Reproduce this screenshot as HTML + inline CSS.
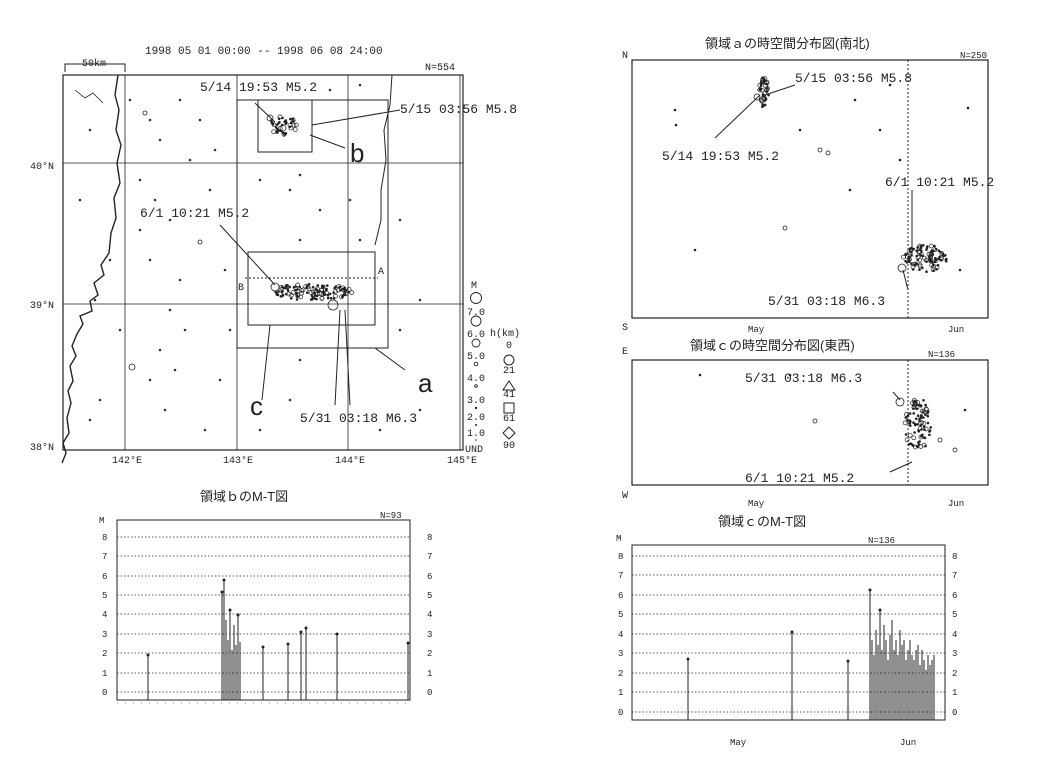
<!DOCTYPE html>
<html><head><meta charset="utf-8"><style>
body{margin:0;background:#fff}
svg{display:block}
text{font-family:"Liberation Mono","Noto Sans CJK JP",monospace;fill:#222}
.t{font-family:"Liberation Sans","Noto Sans CJK JP",sans-serif}
</style></head><body>
<svg id="s" width="1054" height="758" viewBox="0 0 1054 758" xmlns="http://www.w3.org/2000/svg" stroke="#222" fill="none">
<!-- MAP -->
<text x="145" y="54" font-size="11" stroke="none">1998 05 01 00:00 -- 1998 06 08 24:00</text>
<path d="M65 72V64H125V72" stroke-width="1"/><text x="82" y="66" font-size="10" stroke="none">50km</text>
<text x="425" y="70" font-size="10" stroke="none">N=554</text>
<rect x="63" y="75" width="400" height="375" stroke-width="1.2"/>
<g stroke-width="0.8">
<path d="M125 75V450M237 75V450M348 75V450M460 75V450M63 163H463M63 304H463"/>
</g>
<text x="30" y="169" font-size="10" stroke="none">40°N</text>
<text x="30" y="308" font-size="10" stroke="none">39°N</text>
<text x="30" y="450" font-size="10" stroke="none">38°N</text>
<text x="112" y="463" font-size="10" stroke="none">142°E</text>
<text x="223" y="463" font-size="10" stroke="none">143°E</text>
<text x="335" y="463" font-size="10" stroke="none">144°E</text>
<text x="447" y="463" font-size="10" stroke="none">145°E</text>
<!-- coast -->
<path d="M118 75l-3 20 4 15-3 20 5 15-4 18 3 20-6 15 2 20-5 15-2 20-8 12 3 10-10 8 4 12-8 6 2 10-12 5 3 8-6 10-5 12 4 10-6 10 3 15-5 10 3 12-4 15 2 15-6 10 3 10-4 10" stroke-width="1.4"/>
<path d="M75 90l10 8 8-5 10 10" stroke-width="0.8"/>
<path d="M392 75l-2 30-6 25 2 30-5 30 0 30-6 25" stroke-width="1"/>
<!-- boxes -->
<rect x="237" y="100" width="151" height="248" stroke-width="1"/>
<rect x="258" y="100" width="54" height="52" stroke-width="1"/>
<rect x="248" y="252" width="127" height="73" stroke-width="1"/>
<path d="M245 278H378" stroke-dasharray="2 2"/>
<text x="238" y="290" font-size="10" stroke="none">B</text><text x="378" y="274" font-size="10" stroke="none">A</text>
<!-- leaders -->
<path d="M310 135L345 148M312 125L400 110M220 225L275 285M255 103L275 122M345 310L350 405M340 310L335 405M375 348L405 370M270 325L262 400" stroke-width="1"/>
<text x="350" y="162" font-size="26" stroke="none" class="t">b</text>
<text x="418" y="392" font-size="26" stroke="none" class="t">a</text>
<text x="250" y="415" font-size="26" stroke="none" class="t">c</text>
<text x="200" y="91" font-size="13" stroke="none">5/14 19:53 M5.2</text>
<text x="400" y="113" font-size="13" stroke="none">5/15 03:56 M5.8</text>
<text x="140" y="217" font-size="13" stroke="none">6/1 10:21 M5.2</text>
<text x="300" y="422" font-size="13" stroke="none">5/31 03:18 M6.3</text>
<g id="clusters"></g>
<g stroke-width="0.8">
<circle cx="333" cy="305" r="5"/><circle cx="275" cy="287" r="4"/><circle cx="270" cy="118" r="3"/><circle cx="283" cy="128" r="3"/>
<circle cx="132" cy="367" r="3"/><circle cx="200" cy="242" r="2"/><circle cx="145" cy="113" r="2"/>
</g>
<g fill="#333" stroke="none">
<circle cx="90" cy="130" r="1.3"/><circle cx="130" cy="100" r="1.3"/><circle cx="150" cy="120" r="1.3"/><circle cx="160" cy="140" r="1.3"/><circle cx="180" cy="100" r="1.3"/><circle cx="140" cy="180" r="1.3"/><circle cx="155" cy="200" r="1.3"/><circle cx="170" cy="220" r="1.3"/><circle cx="150" cy="260" r="1.3"/><circle cx="180" cy="280" r="1.3"/><circle cx="170" cy="310" r="1.3"/><circle cx="185" cy="330" r="1.3"/><circle cx="160" cy="350" r="1.3"/><circle cx="150" cy="380" r="1.3"/><circle cx="165" cy="410" r="1.3"/><circle cx="100" cy="400" r="1.3"/><circle cx="90" cy="420" r="1.3"/><circle cx="120" cy="330" r="1.3"/><circle cx="110" cy="260" r="1.3"/><circle cx="215" cy="150" r="1.3"/><circle cx="210" cy="190" r="1.3"/><circle cx="225" cy="270" r="1.3"/><circle cx="230" cy="330" r="1.3"/><circle cx="220" cy="380" r="1.3"/><circle cx="205" cy="430" r="1.3"/><circle cx="260" cy="180" r="1.3"/><circle cx="290" cy="190" r="1.3"/><circle cx="300" cy="175" r="1.3"/><circle cx="320" cy="210" r="1.3"/><circle cx="350" cy="200" r="1.3"/><circle cx="360" cy="240" r="1.3"/><circle cx="300" cy="240" r="1.3"/><circle cx="400" cy="220" r="1.3"/><circle cx="420" cy="300" r="1.3"/><circle cx="400" cy="330" r="1.3"/><circle cx="300" cy="360" r="1.3"/><circle cx="290" cy="400" r="1.3"/><circle cx="260" cy="430" r="1.3"/><circle cx="380" cy="430" r="1.3"/><circle cx="420" cy="410" r="1.3"/><circle cx="330" cy="90" r="1.3"/><circle cx="360" cy="85" r="1.3"/><circle cx="200" cy="120" r="1.3"/><circle cx="190" cy="160" r="1.3"/><circle cx="80" cy="200" r="1.3"/><circle cx="95" cy="300" r="1.3"/><circle cx="140" cy="230" r="1.3"/><circle cx="175" cy="370" r="1.3"/>
</g>
<!-- legend -->
<text x="471" y="288" font-size="10" stroke="none">M</text>
<g stroke-width="0.9"><circle cx="476" cy="298" r="5.5"/><circle cx="476" cy="321" r="5"/><circle cx="476" cy="343" r="4"/><circle cx="476" cy="364" r="1.8"/><circle cx="476" cy="386" r="1.3"/></g>
<g fill="#222" stroke="none"><circle cx="476" cy="408" r="1.2"/><circle cx="476" cy="425" r="1"/><circle cx="476" cy="440" r="0.8"/></g>
<g font-size="10" stroke="none" fill="#222"><text x="467" y="315">7.0</text><text x="467" y="337">6.0</text><text x="467" y="359">5.0</text><text x="467" y="381">4.0</text><text x="467" y="403">3.0</text><text x="467" y="420">2.0</text><text x="467" y="436">1.0</text><text x="465" y="452">UND</text>
<text x="490" y="336">h(km)</text><text x="506" y="348">0</text><text x="503" y="373">21</text><text x="503" y="397">41</text><text x="503" y="421">61</text><text x="503" y="448">90</text></g>
<circle cx="509" cy="360" r="5"/><path d="M503 390l6-9 6 9z"/><rect x="504" y="403" width="10" height="10"/><path d="M509 427l6 6-6 6-6-6z"/>
<!-- TOP RIGHT -->
<text x="705" y="48" font-size="13" stroke="none" class="t">領域ａの時空間分布図(南北)</text>
<text x="622" y="58" font-size="10" stroke="none">N</text><text x="960" y="58" font-size="9" stroke="none">N=250</text>
<rect x="632" y="60" width="356" height="258" stroke-width="1.2"/>
<path d="M908 60V318" stroke-dasharray="2 2"/>
<text x="622" y="330" font-size="10" stroke="none">S</text><text x="748" y="332" font-size="9" stroke="none">May</text><text x="948" y="332" font-size="9" stroke="none">Jun</text>
<path d="M715 138L760 95M765 95L795 85M912 190V255M903 270L908 290" stroke-width="1"/>
<text x="795" y="82" font-size="13" stroke="none">5/15 03:56 M5.8</text>
<text x="662" y="160" font-size="13" stroke="none">5/14 19:53 M5.2</text>
<text x="885" y="186" font-size="13" stroke="none">6/1 10:21 M5.2</text>
<text x="768" y="305" font-size="13" stroke="none">5/31 03:18 M6.3</text>
<g fill="#222" stroke="none">
<circle cx="675" cy="110" r="1.3"/><circle cx="676" cy="125" r="1.3"/><circle cx="800" cy="130" r="1.3"/><circle cx="880" cy="130" r="1.3"/><circle cx="855" cy="100" r="1.3"/><circle cx="890" cy="85" r="1.3"/><circle cx="968" cy="108" r="1.3"/><circle cx="900" cy="160" r="1.3"/><circle cx="695" cy="250" r="1.3"/><circle cx="850" cy="190" r="1.3"/><circle cx="960" cy="270" r="1.3"/></g>
<g stroke-width="0.8"><circle cx="757" cy="97" r="3"/><circle cx="820" cy="150" r="2"/><circle cx="828" cy="153" r="2"/><circle cx="785" cy="228" r="2"/><circle cx="902" cy="268" r="4"/></g>
<!-- MIDDLE RIGHT -->
<text x="690" y="350" font-size="13" stroke="none" class="t">領域ｃの時空間分布図(東西)</text>
<text x="622" y="354" font-size="10" stroke="none">E</text><text x="928" y="357" font-size="9" stroke="none">N=136</text>
<rect x="632" y="360" width="356" height="125" stroke-width="1.2"/>
<path d="M908 360V485" stroke-dasharray="2 2"/>
<text x="622" y="498" font-size="10" stroke="none">W</text><text x="748" y="506" font-size="9" stroke="none">May</text><text x="948" y="506" font-size="9" stroke="none">Jun</text>
<text x="745" y="382" font-size="13" stroke="none">5/31 03:18 M6.3</text>
<text x="745" y="482" font-size="13" stroke="none">6/1 10:21 M5.2</text>
<path d="M893 392L900 400M890 472L912 462"/>
<g fill="#222" stroke="none"><circle cx="700" cy="375" r="1.3"/><circle cx="790" cy="375" r="1.3"/><circle cx="965" cy="410" r="1.3"/></g>
<g stroke-width="0.8"><circle cx="900" cy="402" r="4"/><circle cx="815" cy="421" r="2"/><circle cx="940" cy="440" r="2"/><circle cx="955" cy="450" r="2"/></g>
<!-- MT b -->
<text x="200" y="501" font-size="13" stroke="none" class="t">領域ｂのM-T図</text>
<text x="380" y="518" font-size="9" stroke="none">N=93</text>
<rect x="117" y="520" width="293" height="180" stroke-width="1"/>
<g stroke-dasharray="1.5 2" stroke-width="0.7"><path d="M117 692H410M117 673H410M117 653H410M117 634H410M117 614H410M117 595H410M117 576H410M117 556H410M117 537H410"/></g>
<g font-size="9" stroke="none"><text x="99" y="523">M</text>
<text x="102" y="695">0</text><text x="102" y="676">1</text><text x="102" y="656">2</text><text x="102" y="637">3</text><text x="102" y="617">4</text><text x="102" y="598">5</text><text x="102" y="579">6</text><text x="102" y="559">7</text><text x="102" y="540">8</text>
<text x="427" y="695">0</text><text x="427" y="676">1</text><text x="427" y="656">2</text><text x="427" y="637">3</text><text x="427" y="617">4</text><text x="427" y="598">5</text><text x="427" y="579">6</text><text x="427" y="559">7</text><text x="427" y="540">8</text></g>
<path d="M117 703H410" stroke-width="0.6" stroke-dasharray="1 7"/>
<g stroke-width="1"><path d="M148 700V655M222 700V592M224 700V580M226 700V620M228 700V640M230 700V610M232 700V650M234 700V625M236 700V645M238 700V615M240 700V642M263 700V647M288 700V644M301 700V632M306 700V628M337 700V634M408 700V643"/></g>
<g fill="#222" stroke="none"><circle cx="148" cy="655" r="1.5"/><circle cx="222" cy="592" r="1.5"/><circle cx="224" cy="580" r="1.5"/><circle cx="230" cy="610" r="1.5"/><circle cx="238" cy="615" r="1.5"/><circle cx="263" cy="647" r="1.5"/><circle cx="288" cy="644" r="1.5"/><circle cx="301" cy="632" r="1.5"/><circle cx="306" cy="628" r="1.5"/><circle cx="337" cy="634" r="1.5"/><circle cx="408" cy="643" r="1.5"/></g>
<!-- MT c -->
<text x="718" y="526" font-size="13" stroke="none" class="t">領域ｃのM-T図</text>
<text x="868" y="543" font-size="9" stroke="none">N=136</text>
<rect x="632" y="545" width="313" height="175" stroke-width="1"/>
<g stroke-dasharray="1.5 2" stroke-width="0.7"><path d="M632 712H945M632 692H945M632 673H945M632 653H945M632 634H945M632 614H945M632 595H945M632 575H945M632 556H945"/></g>
<g font-size="9" stroke="none"><text x="616" y="541">M</text>
<text x="618" y="715">0</text><text x="618" y="695">1</text><text x="618" y="676">2</text><text x="618" y="656">3</text><text x="618" y="637">4</text><text x="618" y="617">5</text><text x="618" y="598">6</text><text x="618" y="578">7</text><text x="618" y="559">8</text>
<text x="952" y="715">0</text><text x="952" y="695">1</text><text x="952" y="676">2</text><text x="952" y="656">3</text><text x="952" y="637">4</text><text x="952" y="617">5</text><text x="952" y="598">6</text><text x="952" y="578">7</text><text x="952" y="559">8</text>
<text x="730" y="745">May</text><text x="900" y="745">Jun</text></g>
<path d="M688 720V659M792 720V632M848 720V661" stroke-width="1"/>
<g fill="#222" stroke="none"><circle cx="688" cy="659" r="1.5"/><circle cx="792" cy="632" r="1.5"/><circle cx="848" cy="661" r="1.5"/><circle cx="870" cy="590" r="1.5"/><circle cx="880" cy="610" r="1.5"/></g>
<g stroke-width="1"><path d="M870 720V590M872 720V640M874 720V655M876 720V630M878 720V645M880 720V610M882 720V650M884 720V625M886 720V640M888 720V660M890 720V635M892 720V620M894 720V650M896 720V640M898 720V655M900 720V630M902 720V645M904 720V640M906 720V660M908 720V650M910 720V640M912 720V655M914 720V660M916 720V650M918 720V645M920 720V665M922 720V650M924 720V660M926 720V670M928 720V655M930 720V665M932 720V660M934 720V655"/></g>
</svg>
<script>
(function(){
var g=document.getElementById('clusters'),seed=7;
function r(){seed=(seed*16807)%2147483647;return seed/2147483647;}
function cl(cx,cy,rx,ry,n){for(var i=0;i<n;i++){var a=r()*6.283,d=Math.sqrt(r());var x=cx+Math.cos(a)*d*rx,y=cy+Math.sin(a)*d*ry;
var c=document.createElementNS('http://www.w3.org/2000/svg','circle');c.setAttribute('cx',x.toFixed(1));c.setAttribute('cy',y.toFixed(1));
if(r()<0.35){c.setAttribute('r','2');c.setAttribute('fill','none');c.setAttribute('stroke','#222');c.setAttribute('stroke-width','0.7');}
else{c.setAttribute('r','1.3');c.setAttribute('fill','#222');c.setAttribute('stroke','none');}g.appendChild(c);}}
cl(283,125,14,10,40);cl(312,292,40,8,120);
cl(764,93,5,16,40);cl(925,258,22,14,100);
cl(918,425,13,28,90);
})();
</script>
</body></html>
